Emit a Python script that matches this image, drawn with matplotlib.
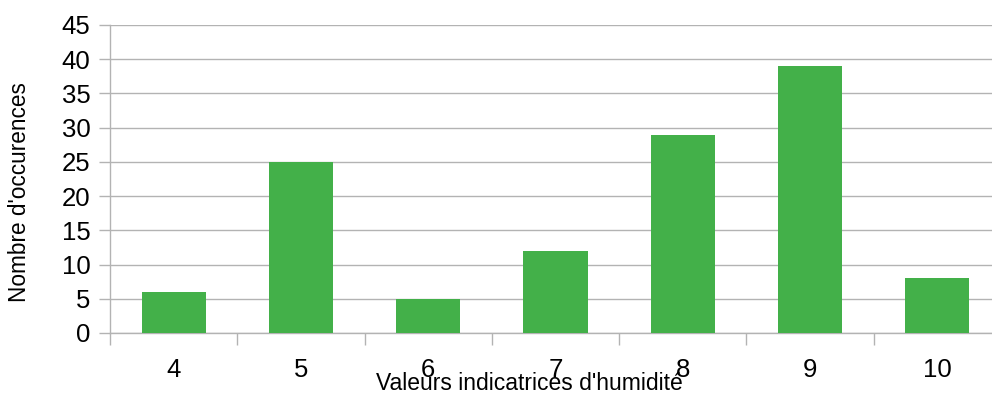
import matplotlib
matplotlib.use("Agg")
import matplotlib.pyplot as plt
from matplotlib.ticker import FixedLocator

plt.rcParams['font.family'] = ['Liberation Sans', 'DejaVu Sans']

categories = ["4", "5", "6", "7", "8", "9", "10"]
counts = [6, 25, 5, 12, 29, 39, 8]
y_ticks = [0, 5, 10, 15, 20, 25, 30, 35, 40, 45]

bar_color = "#43b049"
grid_color = "#b3b3b3"

W, H = 992, 396
fig = plt.figure(figsize=(W / 100, H / 100), dpi=100)
left, right, top, bottom = 110, 1001, 25, 333
ax = fig.add_axes([left / W, 1 - bottom / H, (right - left) / W, (bottom - top) / H])

x = list(range(len(categories)))
ax.bar(x, counts, width=0.505, color=bar_color, zorder=3)

ax.set_xlim(-0.5, len(categories) - 0.5)
ax.set_ylim(0, 45)
ax.set_yticks(y_ticks)
ax.set_yticklabels([str(v) for v in y_ticks], fontsize=18.5)

ax.set_xticks(x)
ax.set_xticklabels(categories, fontsize=18.5)
ax.xaxis.set_minor_locator(FixedLocator([i - 0.5 for i in range(len(categories) + 1)]))
ax.tick_params(axis='x', which='major', length=0, pad=18)
ax.tick_params(axis='x', which='minor', length=8.6, width=1.0, color=grid_color)
ax.tick_params(axis='y', which='major', length=8, width=1.0, color=grid_color, pad=6)

ax.yaxis.grid(True, color=grid_color, linewidth=1.0, zorder=0)
ax.set_axisbelow(True)

for side in ("top", "right"):
    ax.spines[side].set_visible(False)
for side in ("left", "bottom"):
    ax.spines[side].set_color(grid_color)
    ax.spines[side].set_linewidth(1.0)

fig.text(529 / W, 1 - 384 / H, "Valeurs indicatrices d'humidité",
         ha='center', va='center', fontsize=16.5)
fig.text(20 / W, 1 - 192 / H, "Nombre d'occurences",
         ha='center', va='center', rotation=90, fontsize=16.3)

fig.savefig("out.png", dpi=100)
